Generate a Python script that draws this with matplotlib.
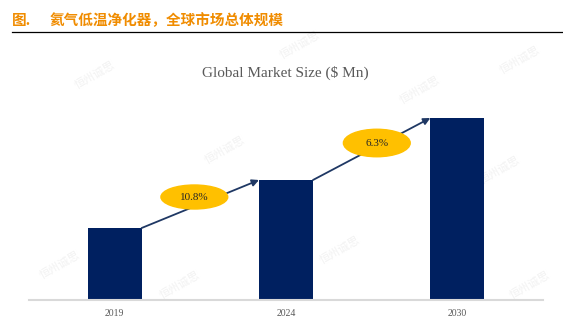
import matplotlib as mpl
import matplotlib.pyplot as plt
from matplotlib.patches import Ellipse
from matplotlib.lines import Line2D
import numpy as np

years = ['2019', '2024', '2030']
sizes = [28.6, 47.8, 72.6]          # global market size, $ Mn
cagr_labels = ['10.8%', '6.3%']

navy = '#002060'
gold = '#FFC000'
grey = '#595959'

W, H = 563, 329
fig = plt.figure(figsize=(W / 100, H / 100), dpi=100)

# header with the rule underneath
cjk = ['Noto Sans CJK SC', 'DejaVu Sans']
fig.text(12 / W, 1 - 20 / H, '图.', color='#F08C00', fontsize=10.5,
         fontweight='bold', family=cjk, va='center')
fig.text(50 / W, 1 - 20 / H, '氦气低温净化器，全球市场总体规模', color='#F08C00',
         fontsize=10.5, fontweight='bold', family=cjk, va='center')
fig.add_artist(Line2D([12 / W, 1], [1 - 32 / H, 1 - 32 / H], color='black', lw=0.9))

# faint watermark, kept behind the plot
for wx, wy in [(95, 75), (300, 45), (520, 60), (225, 150), (500, 170),
               (60, 265), (340, 250), (530, 285), (180, 285), (420, 90)]:
    fig.text(wx / W, 1 - wy / H, '恒州诚思', color='#F2F2F2', fontsize=8,
             family=cjk, rotation=30, ha='center', va='center', zorder=-1)

fig.text(285 / W, 1 - 73 / H, 'Global Market Size ($ Mn)', family='Liberation Serif',
         fontsize=11, color=grey, ha='center', va='center')

ax = fig.add_axes([29 / W, (H - 299.5) / H, 514 / W, 199.5 / H])
ax.patch.set_alpha(0)
x = np.arange(len(years))
bw = 0.315
ax.bar(x, sizes, width=bw, color=navy, zorder=2)
ax.set_xlim(-0.5, 2.5)
ax.set_ylim(0, 79.8)

for s in ['top', 'left', 'right']:
    ax.spines[s].set_visible(False)
ax.spines['bottom'].set_color('#D9D9D9')
ax.spines['bottom'].set_linewidth(1.5)
ax.set_yticks([])
ax.set_xticks(x)
ax.set_xticklabels(years, family='Liberation Serif', fontsize=7, color=grey)
ax.tick_params(axis='x', length=0, pad=7)

# growth arrows from bar top to bar top, with CAGR ellipses
offsets = [(-0.035, 2.8), (0.03, 2.4)]
ell_h = [9.6, 11.0]
for i in range(len(years) - 1):
    x0, y0 = x[i] + bw / 2, sizes[i]
    x1, y1 = x[i + 1] - bw / 2, sizes[i + 1]
    ax.annotate('', xy=(x1, y1), xytext=(x0, y0),
                arrowprops=dict(arrowstyle='-|>', color='#1F3864', lw=1.3,
                                mutation_scale=10, shrinkA=0, shrinkB=0), zorder=3)
    cx = (x0 + x1) / 2 + offsets[i][0]
    cy = (y0 + y1) / 2 + offsets[i][1]
    ax.add_patch(Ellipse((cx, cy), 0.39, ell_h[i], color=gold, zorder=4))
    ax.text(cx, cy, cagr_labels[i], family='Liberation Serif', fontsize=8,
            color='#262626', ha='center', va='center', zorder=5)

fig.savefig('out.png', dpi=100)
